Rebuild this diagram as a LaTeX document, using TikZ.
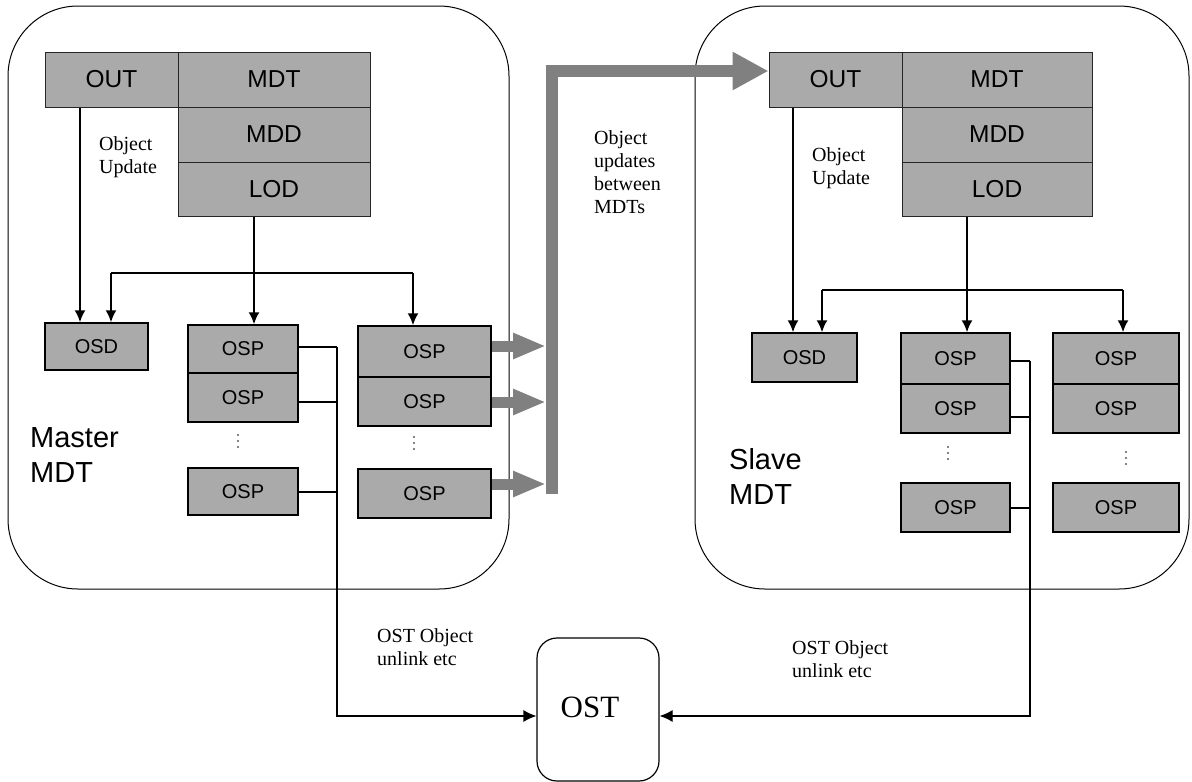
\documentclass[tikz,border=0pt]{standalone}
\usepackage{fontspec}
\setmainfont{Liberation Serif}
\setsansfont{Liberation Sans}
\usetikzlibrary{arrows.meta}
\definecolor{boxgray}{RGB}{170,170,170}
\definecolor{flowgray}{RGB}{128,128,128}
\begin{document}
\begin{tikzpicture}[x=1pt,y=-1pt,
  panel/.style={draw, line width=1pt, rounded corners=70pt, inner sep=0pt},
  topbox/.style={draw=black!85, fill=boxgray, line width=1pt, inner sep=0pt,
    font=\sffamily\fontsize{24.5}{26}\selectfont},
  ospbox/.style={draw, fill=boxgray, line width=1.5pt, inner sep=0pt,
    font=\sffamily\fontsize{20}{22}\selectfont},
  lbl/.style={font=\fontsize{20}{23}\selectfont, align=left, inner sep=0pt, anchor=north west},
  big/.style={font=\sffamily\fontsize{29}{35}\selectfont, align=left, inner sep=0pt, anchor=north west},
  arr/.style={line width=1.7pt, -{Latex[length=12pt,width=11pt]}},
  wire/.style={line width=1.2pt},
  thinarr/.style={line width=1.2pt, -{Latex[length=13pt,width=12pt]}},
  garr/.style={draw=flowgray, line width=11pt, -{Triangle[length=33pt,width=24pt]}},
  dotc/.style={fill=black!65},
]
\useasboundingbox (0,0) rectangle (1192,782);

% panels
\node[panel, minimum width=501pt, minimum height=583pt] (master) at (258.5,297.5) {};
\node[panel, minimum width=494pt, minimum height=583pt] (slave) at (942,297.5) {};

% ---------- master ----------
\node[topbox, minimum width=133pt, minimum height=55pt] (outL) at (111.5,79.5) {OUT};
\node[topbox, minimum width=192pt, minimum height=55pt] (mdtL) at (274,79.5) {MDT};
\node[topbox, minimum width=192pt, minimum height=55pt] (mddL) at (274,134.5) {MDD};
\node[topbox, minimum width=192pt, minimum height=54pt] (lodL) at (274,189) {LOD};

\node[ospbox, minimum width=103pt, minimum height=47pt] (osdL) at (96.5,346.5) {OSD};
\node[ospbox, minimum width=110pt, minimum height=48pt] (pA1) at (243,349) {OSP};
\node[ospbox, minimum width=110pt, minimum height=49pt] (pA2) at (243,397.5) {OSP};
\node[ospbox, minimum width=110pt, minimum height=47pt] (pA3) at (243,491.5) {OSP};
\node[ospbox, minimum width=133pt, minimum height=51pt] (pB1) at (424.5,351.5) {OSP};
\node[ospbox, minimum width=133pt, minimum height=49pt] (pB2) at (424.5,401.5) {OSP};
\node[ospbox, minimum width=133pt, minimum height=49pt] (pB3) at (424.5,493.5) {OSP};
\foreach \yy in {435,441,447} {
  \fill[dotc] (238,\yy) circle (1.1pt);
  \fill[dotc] (414,\yy+2) circle (1.1pt);
}

\node[lbl] (ouL) at (99,136) {Object\\Update};
\node[big] (mlab) at (30,427) {Master\\MDT};

\coordinate (aL1) at (80,0);
\coordinate (aL2) at (111,0);
\coordinate (aL3) at (254,0);
\coordinate (aL4) at (413,0);
\coordinate (hL) at (0,273);
\draw[arr] (outL.south -| aL1) -- (osdL.north -| aL1);
\draw[arr] (lodL.south -| aL3) -- (pA1.north -| aL3);
\draw[wire] (hL -| aL2) -- (hL -| aL4);
\draw[arr] (hL -| aL2) -- (osdL.north -| aL2);
\draw[arr] (hL -| aL4) -- (pB1.north -| aL4);

% ---------- slave ----------
\node[topbox, minimum width=133pt, minimum height=55pt] (outR) at (835.5,79.5) {OUT};
\node[topbox, minimum width=190pt, minimum height=55pt] (mdtR) at (997,79.5) {MDT};
\node[topbox, minimum width=190pt, minimum height=55pt] (mddR) at (997,134.5) {MDD};
\node[topbox, minimum width=190pt, minimum height=54pt] (lodR) at (997,189) {LOD};

\node[ospbox, minimum width=105pt, minimum height=49pt] (osdR) at (804.5,357.5) {OSD};
\node[ospbox, minimum width=109pt, minimum height=51pt] (pC1) at (955.5,358.5) {OSP};
\node[ospbox, minimum width=109pt, minimum height=49pt] (pC2) at (955.5,408.5) {OSP};
\node[ospbox, minimum width=109pt, minimum height=49pt] (pC3) at (955.5,507.5) {OSP};
\node[ospbox, minimum width=126pt, minimum height=51pt] (pD1) at (1116,358.5) {OSP};
\node[ospbox, minimum width=126pt, minimum height=49pt] (pD2) at (1116,408.5) {OSP};
\node[ospbox, minimum width=126pt, minimum height=49pt] (pD3) at (1116,507.5) {OSP};
\foreach \yy in {447,453,459} {
  \fill[dotc] (948,\yy) circle (1.1pt);
  \fill[dotc] (1126,\yy+5) circle (1.1pt);
}

\node[lbl] (ouR) at (812,147) {Object\\Update};
\node[big] (slab) at (729,448) {Slave\\MDT};

\coordinate (aR1) at (793,0);
\coordinate (aR2) at (822,0);
\coordinate (aR3) at (967,0);
\coordinate (aR4) at (1123,0);
\coordinate (hR) at (0,290);
\draw[arr] (outR.south -| aR1) -- (osdR.north -| aR1);
\draw[arr] (lodR.south -| aR3) -- (pC1.north -| aR3);
\draw[wire] (hR -| aR2) -- (hR -| aR4);
\draw[arr] (hR -| aR2) -- (osdR.north -| aR2);
\draw[arr] (hR -| aR4) -- (pD1.north -| aR4);

% ---------- object updates between MDTs ----------
\coordinate (gbar) at (546,0);
\coordinate (gb) at (552,494);
\coordinate (g1) at (0,346);
\coordinate (g2) at (0,402);
\coordinate (g3) at (0,484);
\draw[garr] (pB1.east |- g1) -- (gbar |- g1);
\draw[garr] (pB2.east |- g2) -- (gbar |- g2);
\draw[garr] (pB3.east |- g3) -- (gbar |- g3);
\draw[draw=flowgray, line width=12pt, line join=miter, -{Triangle[length=36pt,width=36pt]}]
  (gb) |- ([yshift=8.5pt]outR.west);
\node[lbl] (oub) at (594,130) {Object\\updates\\between\\MDTs};

% ---------- OST ----------
\node[draw, line width=1.2pt, rounded corners=20pt, minimum width=122pt, minimum height=143pt,
  inner sep=0pt] (ost) at (598,709.5) {};
\node[inner sep=0pt, font=\fontsize{31}{33}\selectfont] (ostt) at (590,707.5) {OST};

\coordinate (busL) at (337,0);
\coordinate (busR) at (1030,0);
\coordinate (ya) at (0,716);
\coordinate (w1) at (0,347);
\coordinate (w2) at (0,402);
\coordinate (w3) at (0,492);
\coordinate (v1) at (0,361);
\coordinate (v2) at (0,417);
\coordinate (v3) at (0,508);
\draw[wire] (pA1.east |- w1) -- (busL |- w1);
\draw[wire] (pA2.east |- w2) -- (busL |- w2);
\draw[wire] (pA3.east |- w3) -- (busL |- w3);
\draw[thinarr] (busL |- w1) -- (busL |- ya) -- (ost.west |- ya);
\draw[wire] (pC1.east |- v1) -- (busR |- v1);
\draw[wire] (pC2.east |- v2) -- (busR |- v2);
\draw[wire] (pC3.east |- v3) -- (busR |- v3);
\draw[thinarr] (busR |- v1) -- (busR |- ya) -- (ost.east |- ya);

\node[lbl] (ostL) at (377,628) {OST Object\\unlink etc};
\node[lbl] (ostR) at (792,640) {OST Object\\unlink etc};
\end{tikzpicture}
\end{document}
